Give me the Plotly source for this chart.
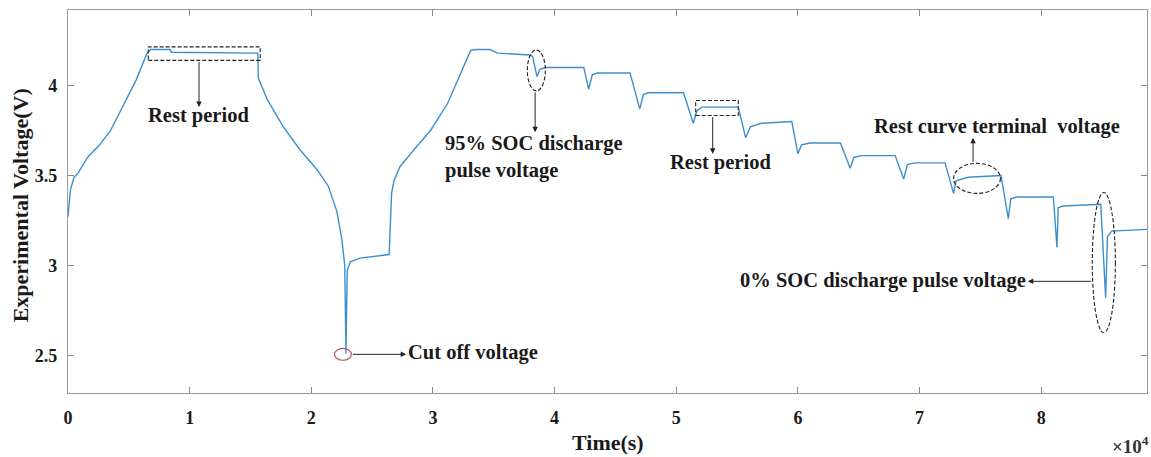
import plotly.graph_objects as go

# ---- data (time in seconds, voltage in V) ----
time_1e4 = [0, 0.02, 0.05, 0.08, 0.16, 0.26, 0.35, 0.45, 0.56, 0.65, 0.68, 0.84, 0.85, 1.56,
            1.565, 1.64, 1.77, 1.91, 2.05, 2.14, 2.21, 2.25, 2.275, 2.285, 2.295, 2.32, 2.40, 2.64,
            2.66, 2.68, 2.73, 2.84, 2.98, 3.12, 3.22, 3.31, 3.35, 3.47, 3.53, 3.80,
            3.82, 3.855, 3.88, 3.92, 4.24,
            4.28, 4.31, 4.35, 4.62,
            4.70, 4.73, 4.77, 5.06,
            5.14, 5.17, 5.21, 5.51,
            5.57, 5.61, 5.70, 5.95,
            6.00, 6.03, 6.10, 6.35,
            6.43, 6.46, 6.52, 6.80,
            6.87, 6.90, 6.96, 7.21,
            7.28, 7.30, 7.40, 7.67,
            7.73, 7.75, 7.80, 8.10,
            8.13, 8.14, 8.18, 8.49,
            8.53, 8.545, 8.58, 8.87]
voltage = [3.27, 3.42, 3.49, 3.51, 3.60, 3.67, 3.75, 3.88, 4.03, 4.18, 4.20, 4.20, 4.185, 4.18,
           4.04, 3.92, 3.77, 3.64, 3.53, 3.44, 3.30, 3.15, 3.00, 2.51, 2.97, 3.02, 3.04, 3.06,
           3.40, 3.47, 3.55, 3.64, 3.75, 3.90, 4.05, 4.195, 4.20, 4.20, 4.18, 4.17,
           4.16, 4.05, 4.09, 4.10, 4.10,
           3.98, 4.06, 4.07, 4.07,
           3.87, 3.95, 3.96, 3.96,
           3.79, 3.86, 3.88, 3.88,
           3.71, 3.77, 3.79, 3.80,
           3.62, 3.67, 3.68, 3.68,
           3.54, 3.60, 3.61, 3.61,
           3.48, 3.56, 3.57, 3.57,
           3.40, 3.47, 3.49, 3.50,
           3.26, 3.37, 3.38, 3.38,
           3.10, 3.32, 3.33, 3.34,
           2.82, 3.16, 3.19, 3.20]
time_s = [t * 1e4 for t in time_1e4]

x_tick_vals = [0, 1e4, 2e4, 3e4, 4e4, 5e4, 6e4, 7e4, 8e4]
x_tick_text = ["0", "1", "2", "3", "4", "5", "6", "7", "8"]
y_tick_vals = [2.5, 3, 3.5, 4]
y_tick_text = ["2.5", "3", "3.5", "4"]

FONT = "Liberation Serif"
TXT = "#1a1a1a"
ANN_SIZE = 20.5

fig = go.Figure()
fig.add_trace(go.Scatter(x=time_s, y=voltage, mode="lines",
                         line=dict(color="#3b8fd1", width=1.4), showlegend=False))

# shapes: boxes and ellipses
dash_line = dict(color="#222222", width=1.1, dash="4px,2px")
fig.add_shape(type="rect", x0=0.66e4, x1=1.58e4, y0=4.14, y1=4.215, line=dash_line)
fig.add_shape(type="rect", x0=5.16e4, x1=5.51e4, y0=3.833, y1=3.917, line=dash_line)
fig.add_shape(type="circle", x0=3.776e4, x1=3.924e4, y0=3.97, y1=4.198, line=dash_line)
fig.add_shape(type="circle", x0=7.28e4, x1=7.665e4, y0=3.40, y1=3.567, line=dash_line)
fig.add_shape(type="circle", x0=8.42e4, x1=8.61e4, y0=2.625, y1=3.405, line=dash_line)
fig.add_shape(type="circle", x0=2.19e4, x1=2.33e4, y0=2.472, y1=2.538,
              line=dict(color="#b05a5a", width=1.2))

def arrow(x, y, ax, ay):
    fig.add_annotation(x=x, y=y, ax=ax, ay=ay, xref="x", yref="y", axref="x", ayref="y",
                       text="", showarrow=True, arrowhead=2, arrowsize=1.1, arrowwidth=1,
                       arrowcolor="#222222")

def label(x, y, text, xanchor="center", align="center"):
    fig.add_annotation(x=x, y=y, xref="x", yref="y", text=f"<b>{text}</b>", showarrow=False,
                       xanchor=xanchor, yanchor="middle", align=align,
                       font=dict(family=FONT, size=ANN_SIZE, color=TXT))

arrow(1.077e4, 3.88, 1.077e4, 4.14)
label(1.07e4, 3.835, "Rest period")

arrow(2.78e4, 2.505, 2.33e4, 2.505)
label(2.775e4, 2.515, "Cut off voltage", xanchor="left")

arrow(3.84e4, 3.74, 3.84e4, 3.97)
label(3.08e4, 3.605, "95% SOC discharge<br>pulse voltage", xanchor="left", align="left")

arrow(5.30e4, 3.62, 5.30e4, 3.833)
label(5.36e4, 3.57, "Rest period")

arrow(7.44e4, 3.71, 7.44e4, 3.567)
label(7.64e4, 3.77, "Rest curve terminal  voltage")

arrow(7.89e4, 2.911, 8.42e4, 2.911)
label(7.895e4, 2.915, "0% SOC discharge pulse voltage", xanchor="right")

# axis titles
fig.add_annotation(x=-0.0445, y=0.49, xref="paper", yref="paper", text="<b>Experimental Voltage(V)</b>",
                   textangle=-90, showarrow=False, xanchor="center", yanchor="middle",
                   font=dict(family=FONT, size=22, color=TXT))
fig.add_annotation(x=0.5, y=-0.13, xref="paper", yref="paper", text="<b>Time(s)</b>",
                   showarrow=False, xanchor="center", yanchor="middle",
                   font=dict(family=FONT, size=22, color=TXT))
fig.add_annotation(x=1.004, y=-0.135, xref="paper", yref="paper", text="<b>×10<sup>4</sup></b>",
                   showarrow=False, xanchor="right", yanchor="middle",
                   font=dict(family=FONT, size=19, color="#333333"))

axis_common = dict(showgrid=False, zeroline=False, showline=True, linecolor="#9a9a9a", linewidth=1.2,
                   mirror="allticks", ticks="inside", ticklen=6, tickcolor="#8a8a8a", tickwidth=1,
                   automargin=False, tickfont=dict(family=FONT, size=18, color=TXT))

fig.update_xaxes(range=[0, 8.87e4], tickvals=x_tick_vals,
                 ticktext=[f"<b>{t}</b>" for t in x_tick_text], ticklabelstandoff=8, **axis_common)
fig.update_yaxes(range=[2.29, 4.42], tickvals=y_tick_vals,
                 ticktext=[f"<b>{t}</b>" for t in y_tick_text], ticklabelstandoff=6, **axis_common)

fig.update_layout(width=1151, height=457, margin=dict(l=68, r=4, t=10, b=64),
                  plot_bgcolor="white", paper_bgcolor="white", showlegend=False)

fig.write_html("out.html", config={"displayModeBar": False},
               post_script="document.body.style.margin='0';document.body.style.overflow='hidden';")
